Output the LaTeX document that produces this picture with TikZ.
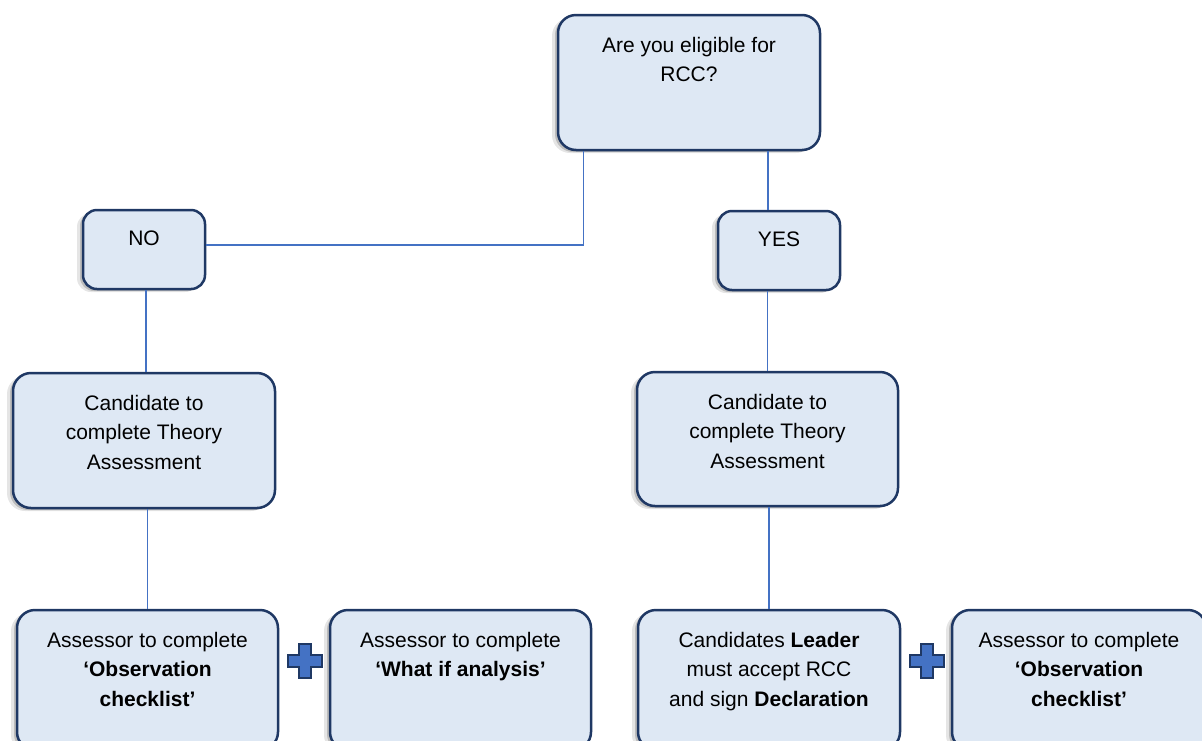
\documentclass[tikz,border=0pt]{standalone}
\usepackage{fontspec}
\setmainfont{Liberation Sans}
\usetikzlibrary{shadows}
\definecolor{boxfill}{HTML}{DEE8F4}
\definecolor{boxline}{HTML}{1F3864}
\definecolor{conn}{HTML}{4472C4}
\tikzset{
  box/.style={draw=boxline, line width=2.5pt, fill=boxfill, rounded corners=18pt, inner sep=0pt,
    drop shadow={shadow xshift=-6pt, shadow yshift=-3pt, fill=black, opacity=0.10},
    drop shadow={shadow xshift=-3pt, shadow yshift=-2pt, fill=black, opacity=0.18}},
  smallbox/.style={box, rounded corners=14pt},
  txt/.style={inner sep=0pt, align=center, font=\fontsize{21}{29.5}\selectfont, text=black},
  link/.style={draw=conn, line width=1.1pt},
  plussign/.pic={\draw[fill=conn, draw=boxline, line width=2pt]
    (-6,-17) -- (6,-17) -- (6,-6) -- (17,-6) -- (17,6) -- (6,6) -- (6,17) -- (-6,17)
    -- (-6,6) -- (-17,6) -- (-17,-6) -- (-6,-6) -- cycle;}
}
\begin{document}
\begin{tikzpicture}[x=1pt,y=-1pt]
\useasboundingbox (0,0) rectangle (1202,740);
\clip (0,0) rectangle (1202,740);
% boxes
\node[box, minimum width=262pt, minimum height=135pt] (q) at (689,82.5) {};
\node[smallbox, minimum width=122pt, minimum height=79pt] (no) at (144,249.5) {};
\node[smallbox, minimum width=122pt, minimum height=79pt] (yes) at (779,250.5) {};
\node[box, minimum width=262pt, minimum height=135pt] (cl) at (144,440.5) {};
\node[box, minimum width=261pt, minimum height=134pt] (cr) at (767.5,439) {};
\node[box, minimum width=261pt, minimum height=140pt] (b1) at (147.5,680) {};
\node[box, minimum width=261pt, minimum height=140pt] (b2) at (460.5,680) {};
\node[box, minimum width=262pt, minimum height=140pt] (b3) at (769,680) {};
\node[box, minimum width=254pt, minimum height=140pt] (b4) at (1079,680) {};
% texts
\node[txt, anchor=north] (qt) at ([yshift=-23pt]q.north) {Are you eligible for\\RCC?};
\node[txt, anchor=north] (nt) at ([yshift=-22pt]no.north) {NO};
\node[txt, anchor=north] (yt) at ([yshift=-22pt]yes.north) {YES};
\node[txt, anchor=north] (clt) at ([yshift=-23pt]cl.north) {Candidate to\\complete Theory\\Assessment};
\node[txt, anchor=north] (crt) at ([yshift=-23pt]cr.north) {Candidate to\\complete Theory\\Assessment};
\node[txt, anchor=north] (b1t) at ([yshift=-23pt]b1.north) {Assessor to complete\\\textbf{‘Observation}\\\textbf{checklist’}};
\node[txt, anchor=north] (b2t) at ([yshift=-23pt]b2.north) {Assessor to complete\\\textbf{‘What if analysis’}};
\node[txt, anchor=north] (b3t) at ([yshift=-23pt]b3.north) {Candidates \textbf{Leader}\\must accept RCC\\and sign \textbf{Declaration}};
\node[txt, anchor=north] (b4t) at ([yshift=-23pt]b4.north) {Assessor to complete\\\textbf{‘Observation}\\\textbf{checklist’}};
% connectors
\draw[link] ([xshift=27pt]q.south west) |- ([yshift=4.5pt]no.east);
\draw[link] ([xshift=-11pt]yes.north |- q.south) -- ([xshift=-11pt]yes.north);
\draw[link] (yes.south -| cr.north) -- (cr.north);
\draw[link] ([xshift=2pt]no.south) -- ([xshift=2pt]no.south |- cl.north);
\draw[link] (cl.south -| b1.north) -- (b1.north);
\draw[link] (cr.south -| b3.north) -- (b3.north);
% plus signs
\pic at (304.5,661) {plussign};
\pic at (926.5,661) {plussign};
\end{tikzpicture}
\end{document}
